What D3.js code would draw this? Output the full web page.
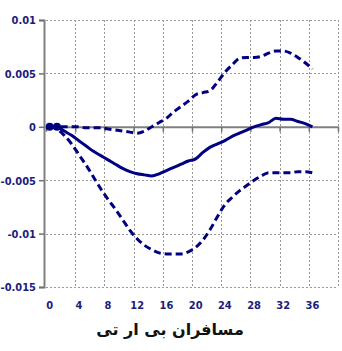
<!DOCTYPE html>
<html lang="fa">
<head>
<meta charset="UTF-8">
<script src="https://cdnjs.cloudflare.com/ajax/libs/d3/7.8.5/d3.min.js"></script>
<style>
  body { margin: 0; background: #fff; }
</style>
</head>
<body>
<svg width="342" height="351"></svg>
<script>
    // months after the shock
    var months = d3.range(0, 37);
    var response = [0, 0, -0.0004, -0.0008, -0.0013, -0.0018, -0.0023, -0.0027, -0.0031, -0.0035,
        -0.0039, -0.0042, -0.0044, -0.0045, -0.0046, -0.0044, -0.0041, -0.0038, -0.0035, -0.0032,
        -0.003, -0.0024, -0.0019, -0.0016, -0.0013, -0.0009, -0.0006, -0.0003, 0, 0.0002,
        0.0004, 0.0008, 0.0007, 0.0007, 0.0005, 0.0003, 0];
    var upper = [0, 0, 0, 0, 0, -0.0001, -0.0001, -0.0001, -0.0002, -0.0003,
        -0.0004, -0.0005, -0.0006, -0.0004, 0, 0.0004, 0.0008, 0.0014, 0.0019, 0.0024,
        0.003, 0.0032, 0.0034, 0.0042, 0.0051, 0.0058, 0.0064, 0.0065, 0.0065, 0.0066,
        0.0069, 0.0071, 0.0071, 0.0069, 0.0065, 0.006, 0.0054];
    var lower = [0, -0.0002, -0.0008, -0.0016, -0.0026, -0.0036, -0.0047, -0.0058, -0.0068, -0.0077,
        -0.0087, -0.0097, -0.0105, -0.0111, -0.0115, -0.0118, -0.0119, -0.0119, -0.0119, -0.0117,
        -0.0113, -0.0106, -0.0096, -0.0084, -0.0073, -0.0066, -0.006, -0.0055, -0.005, -0.0046,
        -0.0043, -0.0043, -0.0043, -0.0043, -0.0042, -0.0042, -0.0043];
    var xTicks = [0, 4, 8, 12, 16, 20, 24, 28, 32, 36];
    var yTicks = [0.01, 0.005, 0, -0.005, -0.01, -0.015];
    var yLabels = ["0.01", "0.005", "0", "-0.005", "-0.01", "-0.015"];
    var title = "مسافران بی ار تی";

    var navy = "#000080";
    var labelFont = "'Liberation Sans Narrow', 'DejaVu Sans Condensed', sans-serif";
    var svg = d3.select("svg");

    var x = d3.scaleLinear().domain([-0.5, 39.5]).range([46, 338]);
    var y = d3.scaleLinear().domain([-0.015, 0.01]).range([287, 20]);
    var px = v => Math.round(v) + 0.5;

    // grid, dotted grey
    var vGrid = d3.range(-0.5, 40, 4).slice(1);
    var hGrid = yTicks.filter(d => d != 0);
    var gridPath = vGrid.map(d => "M" + px(x(d)) + ",20V287").join("") +
        hGrid.map(d => "M46," + px(y(d)) + "H338").join("");
    svg.append("path")
        .attr("d", gridPath)
        .attr("fill", "none")
        .attr("stroke", "#999999")
        .attr("stroke-width", 1)
        .attr("stroke-dasharray", "2,2");

    // y axis
    var yAxis = svg.append("g")
        .attr("transform", "translate(" + (x(-0.5) - 2) + ",0)")
        .call(d3.axisLeft(y).tickValues(yTicks).tickSize(5).tickFormat((d, i) => yLabels[i]));
    yAxis.select(".domain").attr("stroke", "#808080").attr("stroke-width", 2);
    yAxis.selectAll(".tick line").attr("stroke", "#707070").attr("stroke-width", 1.5);
    yAxis.selectAll(".tick text")
        .attr("x", -8).attr("dy", "0.35em")
        .attr("fill", "#1c1c7c")
        .style("font-family", labelFont)
        .style("font-weight", "bold")
        .style("font-size", "11px");

    // zero line with ticks
    var xAxis = svg.append("g")
        .attr("transform", "translate(0," + y(0) + ")")
        .call(d3.axisBottom(x).tickValues(d3.range(-0.5, 40, 4)).tickSize(5).tickSizeOuter(0).tickFormat(""));
    xAxis.select(".domain").attr("stroke", "#808080").attr("stroke-width", 2);
    xAxis.selectAll(".tick line").attr("stroke", "#707070").attr("stroke-width", 1.5);

    // x labels at the bottom
    svg.append("g").selectAll("text")
        .data(xTicks)
        .join("text")
        .attr("x", d => x(d))
        .attr("y", 309)
        .attr("text-anchor", "middle")
        .attr("fill", "#1c1c7c")
        .style("font-family", labelFont)
        .style("font-weight", "bold")
        .style("font-size", "11px")
        .text(d => d);

    var line = d3.line()
        .x((d, i) => x(months[i]))
        .y(d => y(d))
        .curve(d3.curveMonotoneX);

    [upper, lower].forEach(s => {
        svg.append("path")
            .attr("d", line(s))
            .attr("fill", "none")
            .attr("stroke", navy)
            .attr("stroke-width", 3)
            .attr("stroke-dasharray", "7,4");
    });

    svg.append("path")
        .attr("d", line(response))
        .attr("fill", "none")
        .attr("stroke", navy)
        .attr("stroke-width", 3);

    svg.append("g").selectAll("circle")
        .data(response.slice(0, 2))
        .join("circle")
        .attr("cx", (d, i) => x(months[i]))
        .attr("cy", d => y(d))
        .attr("r", 4)
        .attr("fill", navy);

    svg.append("text")
        .attr("x", 170)
        .attr("y", 335)
        .attr("text-anchor", "middle")
        .attr("direction", "rtl")
        .style("font-family", "'DejaVu Sans', sans-serif")
        .style("font-weight", "bold")
        .style("font-size", "16px")
        .attr("fill", "#111")
        .text(title);
</script>
</body>
</html>
